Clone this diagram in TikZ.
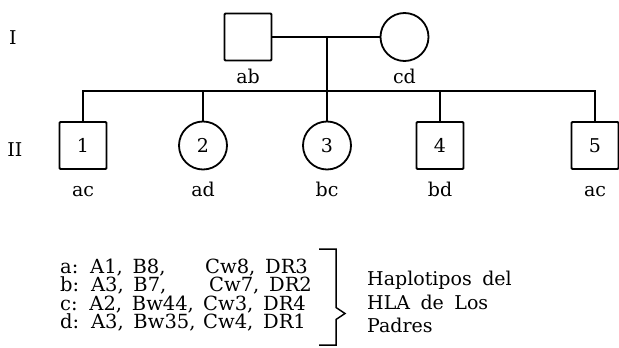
\documentclass[tikz,border=0pt]{standalone}
\usepackage{fontspec}
\setmainfont{DejaVu Serif}
\newcommand\pedfont{\fontsize{19}{20}\selectfont}
\newcommand\keyfont{\fontsize{19.5}{20}\selectfont\spaceskip=0.5em\relax}
\newcommand\notefont{\fontsize{19}{20}\selectfont\spaceskip=0.55em\relax}
\begin{document}
\begin{tikzpicture}[x=1pt,y=-1pt,
  every node/.style={font=\pedfont, inner sep=0pt},
  male/.style={draw, line width=1.8pt, minimum size=47pt, rounded corners=1pt},
  female/.style={draw, circle, line width=1.8pt, minimum size=48pt},
  link/.style={line width=1.6pt},
  lbl/.style={anchor=base},
  txt/.style={anchor=base west, font=\keyfont},
  note/.style={anchor=base west, font=\notefont}]
\useasboundingbox (0,0) rectangle (619,348);

% generation labels
\node[lbl] (g1) at (13,45) {I};
\node[lbl] (g2) at (15,156) {II};

% parents
\node[male] (f) at (248,37) {};
\node[female] (m) at (404.5,37) {};
\node[lbl] (lf) at (248,83) {ab};
\node[lbl] (lm) at (404.5,83) {cd};
\coordinate (mid) at (327,37);
\coordinate (sib) at (327,91);
\draw[link] (f.east) -- (m.west);

% children
\node[male]   (c1) at (83,145.5)  {1};
\node[female] (c2) at (203,145.5) {2};
\node[female] (c3) at (327,145.5) {3};
\node[male]   (c4) at (440,145.5) {4};
\node[male]   (c5) at (595,145.5) {5};
\node[lbl] (l1) at (83,196) {ac};
\node[lbl] (l2) at (203,196) {ad};
\node[lbl] (l3) at (327,196) {bc};
\node[lbl] (l4) at (440,196) {bd};
\node[lbl] (l5) at (595,196) {ac};

% sibship line and drops
\draw[link] (c1.north) |- (sib) -| (c5.north);
\draw[link] (c2.north) -- (c2.north |- sib);
\draw[link] (c4.north) -- (c4.north |- sib);
\draw[link] (mid) -- (c3.north);

% haplotype legend
\node[txt] (ha) at (60,273) {a: A1, B8,};
\node[txt] (hac) at (205,273) {Cw8, DR3};
\node[txt] (hb) at (60,291.5) {b: A3, B7,};
\node[txt] (hbc) at (209,291.5) {Cw7, DR2};
\node[txt] (hc) at (60,310) {c: A2, Bw44,};
\node[txt] (hcc) at (203,310) {Cw3, DR4};
\node[txt] (hd) at (60,328.5) {d: A3, Bw35,};
\node[txt] (hdc) at (203,328.5) {Cw4, DR1};

% brace
\draw[line width=1.5pt] (319,249) -- (336,249) -- (336,307.5) -- (345,313.5) -- (336,319.5) -- (336,345) -- (319,345);

\node[note] (t1) at (367,285) {Haplotipos del};
\node[note] (t2) at (367,309) {HLA de Los};
\node[note] (t3) at (367,332) {Padres};
\end{tikzpicture}
\end{document}
